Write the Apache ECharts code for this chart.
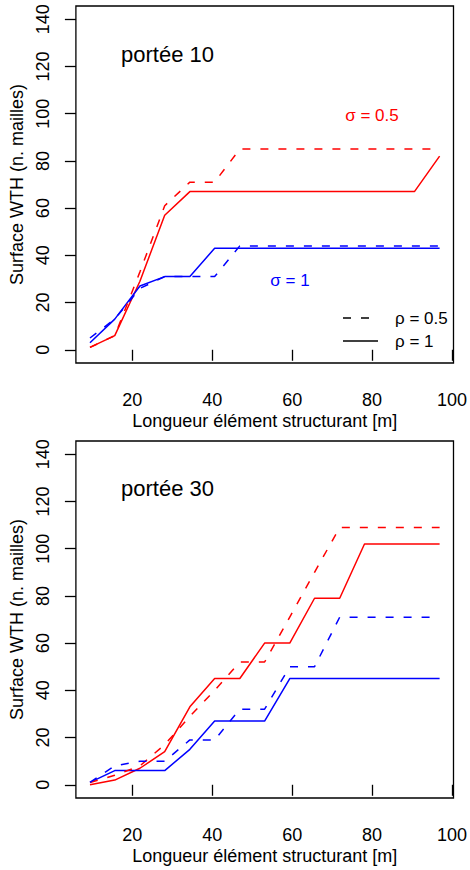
<!DOCTYPE html>
<html><head><meta charset="utf-8">
<script src="https://cdn.jsdelivr.net/npm/echarts@6/dist/echarts.min.js"></script>
<style>html,body{margin:0;padding:0;background:#fff}#c{width:470px;height:870px}</style>
</head><body><div id="c"></div>
<script>
// Longueur élément structurant [m]
const xLen = [9.4, 15.6, 21.9, 28.1, 34.4, 40.6, 46.9, 53.1, 59.4, 65.6, 71.9, 78.1, 84.4, 90.6, 96.9];
const xTicks = [20, 40, 60, 80, 100];
const yTicks = [0, 20, 40, 60, 80, 100, 120, 140];

// portée 10
const p10_sig05_rho05 = [1, 6, 33, 61, 71, 71, 85, 85, 85, 85, 85, 85, 85, 85, 85];
const p10_sig05_rho1  = [1, 6, 29, 57, 67, 67, 67, 67, 67, 67, 67, 67, 67, 67, 82];
const p10_sig1_rho05  = [5, 13, 26, 31, 31, 31, 44, 44, 44, 44, 44, 44, 44, 44, 44];
const p10_sig1_rho1   = [3, 13, 27, 31, 31, 43, 43, 43, 43, 43, 43, 43, 43, 43, 43];

// portée 30
const p30_sig05_rho05 = [1, 4, 8, 17, 29, 40, 52, 52, 71, 90, 109, 109, 109, 109, 109];
const p30_sig05_rho1  = [0, 2, 7, 14, 33, 45, 45, 60, 60, 79, 79, 102, 102, 102, 102];
const p30_sig1_rho05  = [1, 8, 10, 10, 19, 19, 32, 32, 50, 50, 71, 71, 71, 71, 71];
const p30_sig1_rho1   = [1, 6, 6, 6, 15, 27, 27, 27, 45, 45, 45, 45, 45, 45, 45];

const FONT = 'Liberation Sans, Arial, Helvetica, sans-serif';
const RED = '#FF0000', BLUE = '#0000FF';
const DASH = [8, 10];

const chart = echarts.init(document.getElementById('c'), null, {renderer: 'svg'});

function zip(ys) { return xLen.map((x, i) => [x, ys[i]]); }

const grids = [
  {left: 73, top: 6, width: 382, height: 357},
  {left: 73, top: 441, width: 382, height: 357}
].map(g => Object.assign({show: true, borderColor: '#000', borderWidth: 1.3, backgroundColor: 'transparent', containLabel: false}, g));

function xAxis(i) {
  return {
    type: 'value', gridIndex: i, min: 5.875, max: 100.375,
    name: 'Longueur élément structurant [m]', nameLocation: 'middle', nameGap: 49,
    nameTextStyle: {fontFamily: FONT, fontSize: 18, color: '#000'},
    axisLine: {show: false},
    splitLine: {show: false},
    axisTick: {show: true, inside: false, length: 11, customValues: xTicks, lineStyle: {color: '#000', width: 1.3}},
    axisLabel: {show: true, customValues: xTicks, margin: 28, fontFamily: FONT, fontSize: 18, color: '#000'}
  };
}
function yAxis(i) {
  return {
    type: 'value', gridIndex: i, min: -5.6, max: 145.6,
    name: 'Surface WTH (n. mailles)', nameLocation: 'middle', nameGap: 47,
    nameTextStyle: {fontFamily: FONT, fontSize: 18, color: '#000'},
    axisLine: {show: false},
    splitLine: {show: false},
    axisTick: {show: true, inside: false, length: 11, customValues: yTicks, lineStyle: {color: '#000', width: 1.3}},
    axisLabel: {show: true, customValues: yTicks, rotate: 90, margin: 24, fontFamily: FONT, fontSize: 18, color: '#000'}
  };
}

function line(i, ys, color, dashed) {
  return {
    type: 'line', xAxisIndex: i, yAxisIndex: i, data: zip(ys), symbol: 'none',
    lineStyle: {color: color, width: 1.5, type: dashed ? DASH : 'solid'},
    silent: true, z: dashed ? 3 : 2
  };
}

const txt = (x, y, s, color, size, align) => ({
  type: 'text', x: x, y: y,
  style: {text: s, fill: color, font: size + 'px ' + FONT, textAlign: align || 'left', textVerticalAlign: 'middle'}
});

chart.setOption({
  animation: false,
  backgroundColor: '#fff',
  grid: grids,
  xAxis: [xAxis(0), xAxis(1)],
  yAxis: [yAxis(0), yAxis(1)],
  series: [
    line(0, p10_sig05_rho05, RED, true),
    line(0, p10_sig05_rho1, RED, false),
    line(0, p10_sig1_rho05, BLUE, true),
    line(0, p10_sig1_rho1, BLUE, false),
    line(1, p30_sig05_rho05, RED, true),
    line(1, p30_sig05_rho1, RED, false),
    line(1, p30_sig1_rho05, BLUE, true),
    line(1, p30_sig1_rho1, BLUE, false)
  ],
  graphic: [
    txt(121, 54, 'portée 10', '#000', 22),
    txt(121, 488, 'portée 30', '#000', 22),
    txt(372, 115, 'σ = 0.5', RED, 17, 'center'),
    txt(290, 280, 'σ = 1', BLUE, 17, 'center'),
    {type: 'line', shape: {x1: 343, y1: 318, x2: 370, y2: 318}, style: {stroke: '#000', lineWidth: 1.5, lineDash: DASH}},
    {type: 'line', shape: {x1: 343, y1: 341, x2: 378, y2: 341}, style: {stroke: '#000', lineWidth: 1.5}},
    txt(395, 318, 'ρ = 0.5', '#000', 17),
    txt(395, 341, 'ρ = 1', '#000', 17)
  ]
});
</script>
</body></html>
